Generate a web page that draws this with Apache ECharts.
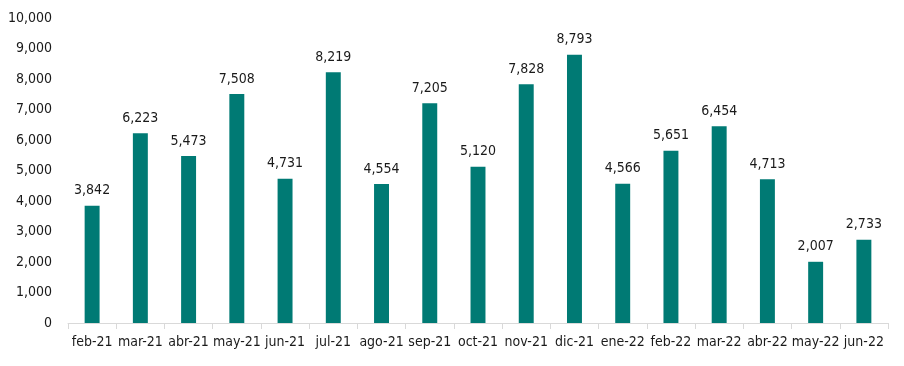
<!DOCTYPE html>
<html><head><meta charset="utf-8">
<script src="https://cdn.jsdelivr.net/npm/echarts@6/dist/echarts.min.js"></script>
<style>html,body{margin:0;padding:0;background:#fff}#c{width:904px;height:366px}</style>
</head><body><div id="c"></div>
<script>
var categories = ['feb-21','mar-21','abr-21','may-21','jun-21','jul-21','ago-21','sep-21','oct-21','nov-21','dic-21','ene-22','feb-22','mar-22','abr-22','may-22','jun-22'];
var values = [3842,6223,5473,7508,4731,8219,4554,7205,5120,7828,8793,4566,5651,6454,4713,2007,2733];
var FONT = '"DejaVu Sans Condensed",sans-serif';
var chart = echarts.init(document.getElementById('c'));
function fmt(v){return v.toLocaleString('en-US');}
chart.setOption({
  animation:false,
  grid:{left:68,right:16,top:18,bottom:43,containLabel:false},
  xAxis:{type:'category',data:categories,
    axisLine:{lineStyle:{color:'#d9d9d9',width:1}},
    axisTick:{show:true,alignWithLabel:false,length:6,lineStyle:{color:'#d9d9d9'}},
    axisLabel:{color:'#1a1a1a',fontFamily:FONT,fontSize:14,margin:12,interval:0}},
  yAxis:{type:'value',min:0,max:10000,interval:1000,
    splitLine:{show:false},axisLine:{show:false},axisTick:{show:false},
    axisLabel:{color:'#1a1a1a',fontFamily:FONT,fontSize:14,margin:16,formatter:fmt}},
  series:[{type:'bar',data:values,barWidth:'31%',
    itemStyle:{color:'#007A74'},
    label:{show:true,position:'top',distance:8,color:'#1a1a1a',fontFamily:FONT,fontSize:14,formatter:function(p){return fmt(p.value);}}}]
});
</script></body></html>
